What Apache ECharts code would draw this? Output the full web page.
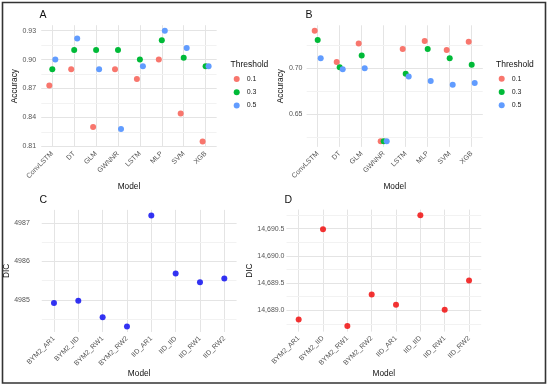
<!DOCTYPE html>
<html><head><meta charset="utf-8">
<script src="https://cdn.jsdelivr.net/npm/echarts@6/dist/echarts.min.js"></script>
<style>html,body{margin:0;padding:0;background:#fff}#c{width:550px;height:388px}</style>
</head><body><div id="c"></div>
<script>
// ---------- data ----------
const mlModels = ['ConvLSTM','DT','GLM','GWNNR','LSTM','MLP','SVM','XGB'];
const thresholds = ['0.1','0.3','0.5'];
const accA_t01 = [0.873,0.890,0.830,0.890,0.880,0.900,0.844,0.815];
const accA_t03 = [0.890,0.910,0.910,0.910,0.900,0.920,0.902,0.893];
const accA_t05 = [0.900,0.922,0.890,0.828,0.893,0.930,0.912,0.893];
const accB_t01 = [0.741,0.707,0.727,0.620,0.721,0.730,0.720,0.729];
const accB_t03 = [0.731,0.701,0.714,0.620,0.694,0.721,0.711,0.704];
const accB_t05 = [0.711,0.699,0.700,0.620,0.691,0.686,0.682,0.684];
const dicModels = ['BYM2_AR1','BYM2_IID','BYM2_RW1','BYM2_RW2','IID_AR1','IID_IID','IID_RW1','IID_RW2'];
const dicC = [4984.92,4984.98,4984.55,4984.31,4987.20,4985.69,4985.46,4985.56];
const dicD = [14688.83,14690.49,14688.71,14689.29,14689.10,14690.75,14689.01,14689.55];
const ticksA = [0.81,0.84,0.87,0.90,0.93];
const ticksB = [0.65,0.70];
const ticksC = [4985,4986,4987];
const ticksD = [14689.0,14689.5,14690.0,14690.5];

// ---------- styling ----------
const FONT = '"Liberation Sans", Arial, Helvetica, sans-serif';
const colT = ['#F8766D','#00BA38','#619CFF'];
const offsets = [-3,0,3];
const MAJ = '#E4E4E4', MIN = '#F2F2F2', LAB = '#555555';
const TICKFS = 7;

function limits(arrs){
  const all = [].concat(...arrs);
  const lo = Math.min(...all), hi = Math.max(...all), r = hi - lo;
  return [lo - 0.05*r, hi + 0.05*r];
}
const limA = limits([accA_t01,accA_t03,accA_t05]);
const limB = limits([accB_t01,accB_t03,accB_t05]);
const limC = limits([dicC]);
const limD = limits([dicD]);

const grids = [
  {left:41.35, top:25.2, width:175.2, height:121.8},
  {left:306.7, top:25.3, width:176,   height:121.6},
  {left:41.8,  top:209.9, width:194.7, height:122.1},
  {left:286.5, top:209.6, width:194.7, height:122.0}
];

function xAx(i, cats){
  return {
    type:'category', gridIndex:i, data:cats, boundaryGap:true,
    axisLine:{show:false}, axisTick:{show:false},
    axisLabel:{interval:0, rotate:45, fontSize:TICKFS, color:LAB, margin:5.5, fontFamily:FONT},
    splitLine:{show:true, interval:0, alignWithLabel:true, lineStyle:{color:MAJ, width:1}},
    name:'Model', nameLocation:'middle', nameGap:(i<2?32:35),
    nameTextStyle:{fontSize:8.3, color:'#111', fontFamily:FONT}
  };
}
function yAxes(i, lim, ticks, name, gap, margin, fmt){
  const step = ticks[1]-ticks[0];
  return [{
    type:'value', gridIndex:i, min:lim[0], max:lim[1], minInterval:step, maxInterval:step, z:3,
    axisLine:{show:false}, axisTick:{show:false},
    axisLabel:{fontSize:TICKFS, color:LAB, margin:margin, fontFamily:FONT, showMinLabel:false, showMaxLabel:false, formatter:fmt},
    splitLine:{show:true, showMinLine:false, showMaxLine:false, lineStyle:{color:MAJ, width:1}},
    name:name, nameLocation:'middle', nameGap:gap,
    nameTextStyle:{fontSize:8.3, color:'#111', fontFamily:FONT}
  },{
    type:'value', gridIndex:i, min:lim[0], max:lim[1], minInterval:step/2, maxInterval:step/2, z:1, position:'left',
    axisLine:{show:false}, axisTick:{show:false}, axisLabel:{show:false},
    splitLine:{show:true, showMinLine:false, showMaxLine:false, lineStyle:{color:MIN, width:1}}
  }];
}

const series = [];
const accA = [accA_t01,accA_t03,accA_t05], accB = [accB_t01,accB_t03,accB_t05];
thresholds.forEach((t,k)=>{
  series.push({type:'scatter', name:t, xAxisIndex:0, yAxisIndex:0, data:accA[k], symbolSize:6,
    symbolOffset:[offsets[k],0], itemStyle:{color:colT[k], opacity:1}, z:5});
});
thresholds.forEach((t,k)=>{
  series.push({type:'scatter', name:t, xAxisIndex:1, yAxisIndex:2, data:accB[k], symbolSize:6,
    symbolOffset:[offsets[k],0], itemStyle:{color:colT[k], opacity:1}, z:5});
});
series.push({type:'scatter', name:'DIC C', xAxisIndex:2, yAxisIndex:4, data:dicC, symbolSize:6, itemStyle:{color:'#0000F0'}, z:5});
series.push({type:'scatter', name:'DIC D', xAxisIndex:3, yAxisIndex:6, data:dicD, symbolSize:6, itemStyle:{color:'#F00000'}, z:5});

function legendAt(left, top){
  return {data:thresholds, orient:'vertical', left:left, top:top, icon:'circle', itemWidth:6, itemHeight:6,
    itemGap:5, selectedMode:false, padding:0,
    textStyle:{fontSize:7, color:'#222', lineHeight:8.3, fontFamily:FONT, padding:[0,0,0,2]}};
}
function ttl(text, left, top, size){
  return {text:text, left:left, top:top, padding:0, textStyle:{fontSize:size, fontWeight:'normal', color:'#111', fontFamily:FONT}};
}

const fmt2 = v => v.toFixed(2);
const fmtC = v => String(Math.round(v));
const fmtD = v => v.toLocaleString('en-US',{minimumFractionDigits:1, maximumFractionDigits:1});

const option = {
  animation:false,
  backgroundColor:'#fff',
  title:[ttl('A',39.5,10,10.5), ttl('B',305.5,10,10.5), ttl('C',39.5,194.5,10.5), ttl('D',284.5,194.5,10.5),
         ttl('Threshold',230.5,60,8.5), ttl('Threshold',496,60,8.5)],
  legend:[legendAt(233.7,74.8), legendAt(498.7,74.5)],
  grid:grids,
  xAxis:[xAx(0,mlModels), xAx(1,mlModels), xAx(2,dicModels), xAx(3,dicModels)],
  yAxis:[].concat(
    yAxes(0,limA,ticksA,'Accuracy',22,5.2,fmt2),
    yAxes(1,limB,ticksB,'Accuracy',20.7,4.2,fmt2),
    yAxes(2,limC,ticksC,'DIC',23,12,fmtC),
    yAxes(3,limD,ticksD,'DIC',31.8,2,fmtD)
  ),
  series:series,
  graphic:[{type:'rect', shape:{x:2.5,y:2.5,width:543,height:380.5}, style:{fill:'none', stroke:'#333', lineWidth:1.6}, silent:true}]
};
echarts.init(document.getElementById('c'),null,{renderer:'canvas'}).setOption(option);
</script></body></html>
